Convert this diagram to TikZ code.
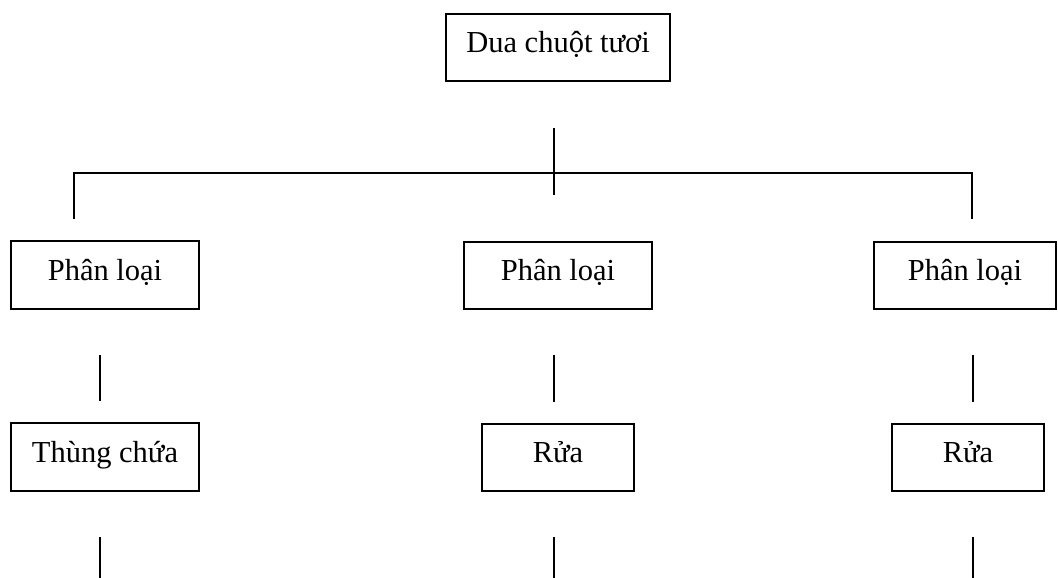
\documentclass[tikz,border=0pt]{standalone}
\usepackage{fontspec}
\setmainfont{Liberation Serif}
\begin{document}
\begin{tikzpicture}[x=1pt,y=-1pt,
  stepbox/.style={draw=black,line width=1.6pt,inner sep=0pt,anchor=center,text height=20.5pt,text depth=10.5pt,font=\fontsize{30.5}{34}\selectfont},
  link/.style={draw=black,line width=1.6pt}]
\useasboundingbox (0,0) rectangle (1058,578);
\node[stepbox,minimum width=224pt,minimum height=67pt] (top) at (558,47.7) {Dua chuột tươi};
\node[stepbox,minimum width=188pt,minimum height=68pt] (pl1) at (105,275) {Phân loại};
\node[stepbox,minimum width=188pt,minimum height=67pt] (pl2) at (558,275.5) {Phân loại};
\node[stepbox,minimum width=182pt,minimum height=67pt] (pl3) at (965,275.5) {Phân loại};
\node[stepbox,minimum width=188pt,minimum height=68pt] (tc) at (105,457.2) {Thùng chứa};
\node[stepbox,minimum width=152pt,minimum height=67pt] (r2) at (558,457.5) {Rửa};
\node[stepbox,minimum width=152pt,minimum height=67pt] (r3) at (968,457.5) {Rửa};
% free ends of the connectors
\coordinate (a1) at (554,128); \coordinate (a2) at (554,195);
\coordinate (h1) at (73,173); \coordinate (h2) at (973,173);
\coordinate (l1) at (74,173); \coordinate (l2) at (74,219);
\coordinate (q1) at (972,173); \coordinate (q2) at (972,219);
\coordinate (m1a) at (100,355); \coordinate (m1b) at (100,401);
\coordinate (m2a) at (554,355); \coordinate (m2b) at (554,402);
\coordinate (m3a) at (973,355); \coordinate (m3b) at (973,402);
\coordinate (b1a) at (100,537); \coordinate (b1b) at (100,578);
\coordinate (b2a) at (554,537); \coordinate (b2b) at (554,578);
\coordinate (b3a) at (973,537); \coordinate (b3b) at (973,578);
\draw[link] (a1) -- (a2);
\draw[link] (h1) -- (h2);
\draw[link] (l1) -- (l2);
\draw[link] (q1) -- (q2);
\draw[link] (m1a) -- (m1b);
\draw[link] (m2a) -- (m2b);
\draw[link] (m3a) -- (m3b);
\draw[link] (b1a) -- (b1b);
\draw[link] (b2a) -- (b2b);
\draw[link] (b3a) -- (b3b);
\end{tikzpicture}
\end{document}
